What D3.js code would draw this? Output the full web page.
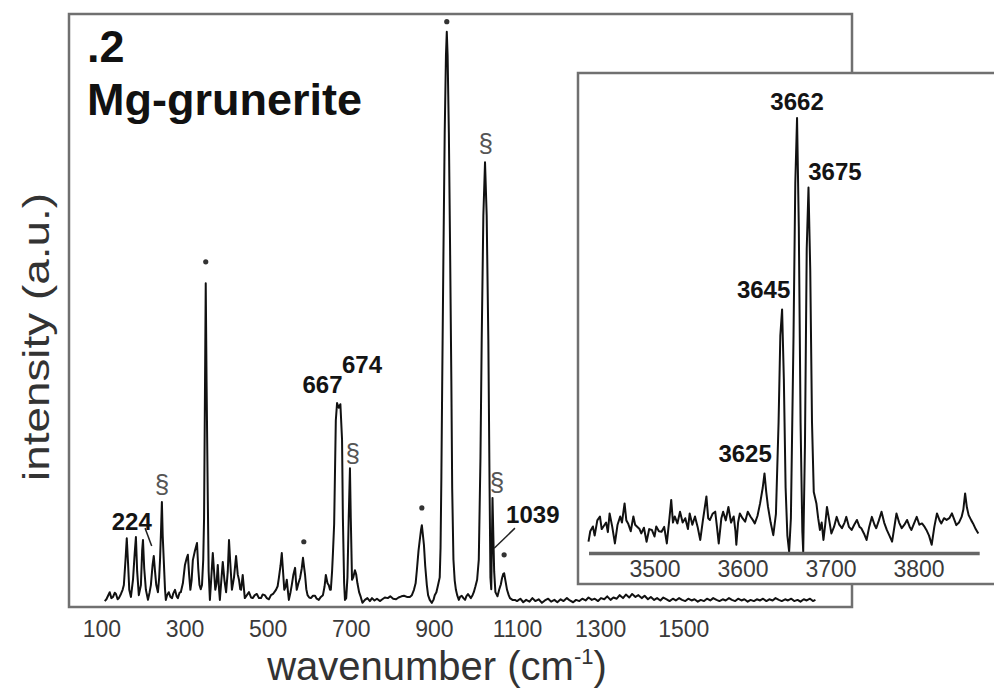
<!DOCTYPE html>
<html>
<head>
<meta charset="utf-8">
<script src="https://cdn.jsdelivr.net/npm/d3@7"></script>
<style>
	body { margin: 0; background: #fff; }
	svg { display: block; font-family: 'Liberation Sans', Arial, sans-serif; }
	.frame { fill: none; stroke: #707070; stroke-width: 2.5; }
	.insetFrame { fill: #fff; stroke: #707070; stroke-width: 2.5; }
	.spectrum { fill: none; stroke: #111; stroke-width: 2; stroke-linejoin: round; }
	.tickLabel { fill: #3a3a3a; font-size: 23px; text-anchor: middle; }
	.peakLabel { fill: #141414; font-size: 24px; font-weight: bold; text-anchor: middle; }
	.band { fill: #555; font-size: 26px; text-anchor: middle; }
	.dot { fill: #333; }
	.leader { stroke: #222; stroke-width: 1.5; }
	.title { fill: #111; font-size: 45px; font-weight: bold; }
	.axisTitle { fill: #333; }
</style>
</head>
<body>
<div id="chart"></div>
<script>
// raman spectrum, low wavenumber region: [wavenumber, intensity]
var mainSpectrum = [
	[108,1.0],[112,1.3],[116,1.9],[120,2.5],[124,1.5],[128,1.7],[132,2.4],[135,2.2],[139,1.3],[142,1.5],
	[147,2.2],[151,2.9],[154,3.7],[158,8.0],[161,11.6],[164,7.5],[167,2.9],[171,1.7],[176,4.6],[180,9.0],
	[183,11.8],[186,6.0],[190,2.0],[195,3.7],[198,9.5],[200,11.3],[203,6.5],[207,2.9],[212,1.2],[216,2.5],
	[219,3.7],[223,7.0],[226,8.6],[229,6.0],[232,3.7],[236,2.5],[239,5.0],[241,7.9],[243.5,13.0],[245.5,17.7],
	[247.5,12.0],[250,7.9],[253,3.0],[255,1.2],[258,2.0],[262,2.5],[266,1.7],[270,1.5],[273,2.3],[277,2.9],
	[281,1.8],[284,1.5],[288,2.4],[291,2.5],[296,4.0],[301,7.1],[305,8.2],[308,8.8],[311,5.5],[314,2.9],
	[317,4.5],[320,7.9],[325,9.5],[330,10.8],[333,6.5],[336,3.7],[339,3.0],[342,3.7],[345,8.0],[347,15.0],
	[349,35.0],[351,54.6],[353,38.0],[356,18.0],[358,6.0],[361,1.2],[364,4.5],[368,9.1],[371,6.0],[374,2.9],
	[377,4.0],[380,7.1],[383,3.0],[385,1.2],[388,4.0],[392,7.6],[396,4.5],[400,2.5],[404,6.0],[407,11.3],
	[410,7.5],[414,2.9],[419,5.0],[424,8.6],[428,5.5],[431,4.6],[434,3.0],[436,2.9],[440,5.4],[443,3.0],
	[445,1.5],[450,2.0],[455,2.5],[460,1.6],[464,1.5],[469,2.0],[474,2.2],[479,1.5],[484,1.5],[488,2.1],
	[493,2.0],[498,1.5],[503,1.3],[508,2.0],[513,2.2],[517,2.6],[520,2.9],[524,3.5],[527,4.9],[531,7.0],
	[534,9.1],[537,6.0],[540,2.9],[543,3.4],[546,4.6],[549,2.5],[551,1.2],[555,2.5],[558,3.7],[562,5.5],
	[566,6.6],[568,4.5],[570,2.9],[574,4.0],[578,4.9],[582,6.5],[585,8.3],[588,6.5],[590,5.4],[593,3.0],
	[596,2.0],[600,1.6],[604,1.5],[609,1.9],[614,1.9],[618,1.4],[623,1.2],[628,1.7],[633,2.0],[637,3.5],
	[640,5.4],[644,4.0],[647,3.7],[650,2.9],[652,2.9],[655,6.0],[657,9.0],[660,14.0],[664,31.5],[667,34.4],
	[671,33.6],[675,34.2],[679,28.2],[681,15.0],[684,4.0],[686,1.2],[689,1.5],[692,5.0],[695,15.0],[698,23.4],
	[700,15.0],[703,4.6],[706,5.0],[710,6.2],[713,5.5],[716,4.0],[720,2.5],[724,1.7],[728,0.7],[734,1.2],
	[740,1.5],[746,1.0],[751,1.5],[757,1.1],[763,1.4],[770,1.0],[776,1.3],[782,1.6],[789,1.5],[795,1.8],
	[802,1.4],[809,1.3],[815,1.6],[822,1.8],[828,1.9],[835,1.7],[842,1.7],[847,2.0],[852,2.9],[856,4.0],
	[859,6.2],[863,9.5],[866,11.3],[869,13.0],[871,13.8],[873,12.5],[876,10.5],[879,7.0],[883,3.7],[886,2.0],
	[890,1.2],[895,0.7],[899,1.2],[902,2.0],[906,2.5],[910,3.7],[914,5.0],[916,10.0],[918,22.0],[920,38.0],
	[923,60.0],[926,80.0],[929,93.0],[931,97.0],[933,93.0],[936,80.0],[939,60.0],[942,38.0],[944,20.0],[947,8.0],
	[950,4.5],[953,2.9],[956,2.0],[960,1.2],[963,1.7],[967,1.9],[971,1.5],[975,1.2],[978,1.8],[982,2.2],
	[986,1.8],[989,1.5],[993,2.0],[996,2.5],[1000,3.5],[1004,4.6],[1008,8.0],[1012,25.0],[1015,45.0],[1019,66.0],
	[1023,75.0],[1027,66.0],[1031,45.0],[1034,20.0],[1036,5.0],[1038,3.0],[1041,18.4],[1043,12.0],[1045,6.0],[1048,2.5],
	[1053,1.8],[1057,2.9],[1061,3.8],[1064,4.9],[1067,5.6],[1069,5.7],[1072,4.5],[1076,2.9],[1080,2.0],[1083,1.5],
	[1089,1.2],[1095,1.2],[1100,1.0],[1108,1.4],[1115,0.8],[1122,1.2],[1130,0.9],[1137,1.5],[1144,1.0],[1152,1.3],
	[1160,0.7],[1167,1.1],[1175,1.4],[1182,0.9],[1190,1.2],[1197,0.8],[1205,1.3],[1212,1.0],[1220,1.5],[1227,1.1],
	[1235,0.8],[1242,1.2],[1250,1.0],[1257,1.4],[1265,1.1],[1272,1.6],[1280,1.2],[1287,1.4],[1295,1.0],[1302,1.5],
	[1310,1.3],[1317,1.8],[1325,1.2],[1332,1.6],[1340,1.4],[1347,2.0],[1355,1.5],[1362,2.1],[1370,1.6],[1377,2.2],
	[1385,1.7],[1392,2.0],[1400,1.5],[1407,1.9],[1415,1.3],[1422,1.7],[1430,1.2],[1437,1.5],[1445,1.1],[1452,1.6],
	[1460,1.3],[1467,1.0],[1475,1.4],[1482,1.1],[1490,1.5],[1497,1.2],[1505,1.0],[1512,1.4],[1520,1.1],[1527,1.3],
	[1535,0.9],[1542,1.2],[1550,1.0],[1557,1.4],[1565,1.1],[1572,1.5],[1580,1.2],[1587,1.0],[1595,1.3],[1602,1.1],
	[1610,1.5],[1617,1.2],[1625,1.0],[1632,1.4],[1640,1.1],[1647,1.3],[1655,0.9],[1662,1.2],[1670,1.0],[1677,1.3],
	[1685,1.1],[1692,1.4],[1700,1.0],[1707,1.3],[1715,1.1],[1722,1.5],[1730,1.2],[1737,1.0],[1745,1.3],[1752,1.1],
	[1760,1.4],[1767,1.0],[1775,1.2],[1782,0.9],[1790,1.3],[1797,1.1],[1805,1.4],[1812,1.0],[1818,1.2]
];

// OH stretching region (inset): [wavenumber, intensity]
var insetSpectrum = [
	[3425,2.6],[3427,5.0],[3430,6.1],[3432,4.0],[3435,7.5],[3438,8.4],[3440,5.5],[3442,6.1],[3445,7.0],[3447,4.8],
	[3449,9.1],[3452,6.0],[3455,2.2],[3458,6.5],[3461,8.4],[3463,7.0],[3466,11.4],[3468,7.5],[3470,6.8],[3473,5.0],
	[3476,8.4],[3478,6.5],[3480,6.1],[3483,5.5],[3485,4.5],[3488,5.8],[3491,2.6],[3494,5.5],[3497,5.3],[3500,3.8],
	[3502,6.1],[3505,5.0],[3508,4.9],[3511,6.0],[3514,2.2],[3517,8.0],[3519,12.2],[3521,7.0],[3523,8.4],[3526,6.8],
	[3529,9.5],[3532,7.0],[3535,8.0],[3538,5.5],[3540,9.1],[3543,6.5],[3546,8.4],[3549,6.0],[3552,3.0],[3555,7.5],
	[3559,13.0],[3561,8.0],[3563,7.6],[3566,9.0],[3569,9.5],[3571,6.0],[3573,2.2],[3576,8.0],[3578,9.5],[3581,7.5],
	[3584,10.6],[3587,7.0],[3590,8.4],[3592,5.0],[3593,1.9],[3595,7.0],[3597,9.1],[3600,8.0],[3603,7.2],[3606,9.5],
	[3609,8.4],[3612,7.5],[3614,6.8],[3617,8.5],[3620,11.4],[3623,15.0],[3625,18.3],[3627,14.0],[3629,10.6],[3632,7.0],
	[3635,4.1],[3638,9.0],[3641,30.0],[3643,50.0],[3645,56.0],[3647,40.0],[3649,15.0],[3651,4.0],[3653,0.3],[3655,8.0],
	[3658,50.0],[3660,85.0],[3662,100.0],[3664,75.0],[3666,30.0],[3668,5.0],[3669,0.3],[3671,25.0],[3673,70.0],[3675,84.0],
	[3677,65.0],[3679,30.0],[3681,14.0],[3684,11.4],[3686,8.0],[3688,5.3],[3690,7.0],[3692,3.0],[3694,6.5],[3696,10.6],
	[3699,7.0],[3701,4.5],[3704,6.0],[3707,8.3],[3710,6.5],[3713,5.7],[3716,7.0],[3718,8.3],[3721,6.0],[3724,5.3],
	[3727,6.5],[3730,7.6],[3733,6.0],[3735,5.7],[3738,4.5],[3741,3.0],[3744,6.0],[3747,8.3],[3750,6.5],[3752,5.7],
	[3755,7.5],[3758,9.5],[3761,7.0],[3764,5.3],[3767,4.0],[3770,2.6],[3773,6.5],[3775,9.1],[3778,7.0],[3781,5.7],
	[3784,6.5],[3787,7.6],[3790,6.0],[3792,5.3],[3795,6.8],[3798,8.3],[3801,6.5],[3804,6.8],[3807,6.0],[3809,5.3],
	[3812,4.0],[3815,1.9],[3818,6.0],[3821,9.1],[3824,7.5],[3826,6.8],[3829,8.0],[3832,7.6],[3835,8.0],[3838,9.1],
	[3841,7.5],[3843,6.4],[3846,7.0],[3849,8.3],[3851,10.0],[3853,13.7],[3855,10.5],[3857,8.7],[3860,7.5],[3862,6.8],
	[3865,5.5],[3868,4.5]
];

var mainTicks  = [100, 300, 500, 700, 900, 1100, 1300, 1500];
var insetTicks = [3500, 3600, 3700, 3800];

// label anchors: wavenumber / intensity where the text sits
var mainPeakLabels = [
	{text: '224',  wn: 173,  at: 13.0},
	{text: '667',  wn: 632,  at: 36.1},
	{text: '674',  wn: 727,  at: 39.5},
	{text: '1039', wn: 1138, at: 14.2}
];
var mainLeaders = [
	{from: [205, 13.3], to: [221, 10.3]},
	{from: [1095, 13.3], to: [1045, 9.9]}
];
var bandMarks = [          // § bands
	{wn: 245.5, at: 19.2},
	{wn: 705,   at: 24.5},
	{wn: 1025,  at: 76.7},
	{wn: 1052,  at: 19.6}
];
var starMarks = [          // * bands
	{wn: 351, at: 58.2},
	{wn: 587, at: 11.0},
	{wn: 871, at: 16.7},
	{wn: 931, at: 98.7},
	{wn: 1069, at: 8.8}
];
var insetPeakLabels = [
	{text: '3662', wn: 3662, at: 101.8},
	{text: '3675', wn: 3705, at: 85.7},
	{text: '3645', wn: 3624, at: 58.6},
	{text: '3625', wn: 3603, at: 20.9}
];

function RamanChart(parentId) {
	var me = this;
	me.width  = 994;
	me.height = 689;
	me.svg = d3.select('#' + parentId).append('svg')
		.attr('width', me.width)
		.attr('height', me.height);
	me.drawMain();
	me.drawInset();
	me.drawTitles();
}

RamanChart.prototype.drawMain = function() {
	var me = this;

	me.x = d3.scaleLinear().domain([22, 1906]).range([69, 852]);
	me.y = d3.scaleLinear().domain([0, 100]).range([607, 14]);

	var line = d3.line()
		.x(function(d) { return me.x(d[0]); })
		.y(function(d) { return me.y(d[1]); });

	var g = me.svg.append('g').attr('class', 'main');

	g.append('rect')
		.attr('class', 'frame')
		.attr('x', me.x.range()[0])
		.attr('y', me.y.range()[1])
		.attr('width', me.x.range()[1] - me.x.range()[0])
		.attr('height', me.y.range()[0] - me.y.range()[1]);

	g.append('path')
		.attr('class', 'spectrum')
		.attr('d', line(mainSpectrum));

	var axis = d3.axisBottom(me.x)
		.tickValues(mainTicks)
		.tickSize(0)
		.tickPadding(0)
		.tickFormat(d3.format('d'));
	var ax = g.append('g')
		.attr('transform', 'translate(0,' + me.y(0) + ')')
		.call(axis);
	ax.select('.domain').remove();
	ax.selectAll('text')
		.attr('class', 'tickLabel')
		.attr('y', 30)
		.attr('dy', null)
		.attr('fill', null)
		.attr('font-size', null)
		.attr('font-family', null);

	g.selectAll('text.peakLabel')
		.data(mainPeakLabels)
		.enter().append('text')
		.attr('class', 'peakLabel')
		.attr('x', function(d) { return me.x(d.wn); })
		.attr('y', function(d) { return me.y(d.at); })
		.text(function(d) { return d.text; });

	g.selectAll('line.leader')
		.data(mainLeaders)
		.enter().append('line')
		.attr('class', 'leader')
		.attr('x1', function(d) { return me.x(d.from[0]); })
		.attr('y1', function(d) { return me.y(d.from[1]); })
		.attr('x2', function(d) { return me.x(d.to[0]); })
		.attr('y2', function(d) { return me.y(d.to[1]); });

	g.selectAll('text.band')
		.data(bandMarks)
		.enter().append('text')
		.attr('class', 'band')
		.attr('x', function(d) { return me.x(d.wn); })
		.attr('y', function(d) { return me.y(d.at); })
		.text('§');

	g.selectAll('circle.dot')
		.data(starMarks)
		.enter().append('circle')
		.attr('class', 'dot')
		.attr('cx', function(d) { return me.x(d.wn); })
		.attr('cy', function(d) { return me.y(d.at); })
		.attr('r', 2.6);
}

RamanChart.prototype.drawInset = function() {
	var me = this;

	me.ix = d3.scaleLinear().domain([3425, 3869]).range([588.5, 979.2]);
	me.iy = d3.scaleLinear().domain([0, 100]).range([553, 118]);

	var line = d3.line()
		.x(function(d) { return me.ix(d[0]); })
		.y(function(d) { return me.iy(d[1]); });

	var g = me.svg.append('g').attr('class', 'inset');

	// inset box runs off the right edge of the figure
	g.append('rect')
		.attr('class', 'insetFrame')
		.attr('x', 578)
		.attr('y', 73)
		.attr('width', 440)
		.attr('height', 511);

	g.append('path')
		.attr('class', 'spectrum')
		.attr('d', line(insetSpectrum));

	var axis = d3.axisBottom(me.ix)
		.tickValues(insetTicks)
		.tickSize(0)
		.tickSizeOuter(0)
		.tickPadding(0)
		.tickFormat(d3.format('d'));
	var ax = g.append('g')
		.attr('transform', 'translate(0,' + me.iy(0) + ')')
		.call(axis);
	ax.select('.domain')
		.attr('stroke', '#666')
		.attr('stroke-width', 3.5);
	ax.selectAll('text')
		.attr('class', 'tickLabel')
		.attr('y', 24)
		.attr('dy', null)
		.attr('fill', null)
		.attr('font-size', null)
		.attr('font-family', null);

	g.selectAll('text.peakLabel')
		.data(insetPeakLabels)
		.enter().append('text')
		.attr('class', 'peakLabel')
		.attr('x', function(d) { return me.ix(d.wn); })
		.attr('y', function(d) { return me.iy(d.at); })
		.text(function(d) { return d.text; });
}

RamanChart.prototype.drawTitles = function() {
	var me = this;

	me.svg.append('text')
		.attr('class', 'title')
		.attr('x', 87)
		.attr('y', 62)
		.text('.2');
	me.svg.append('text')
		.attr('class', 'title')
		.attr('x', 87)
		.attr('y', 115)
		.text('Mg-grunerite');

	me.svg.append('text')
		.attr('class', 'axisTitle')
		.attr('transform', 'translate(49,337) rotate(-90)')
		.attr('text-anchor', 'middle')
		.attr('font-size', 36)
		.attr('textLength', 288)
		.attr('lengthAdjust', 'spacingAndGlyphs')
		.text('intensity (a.u.)');

	var xt = me.svg.append('text')
		.attr('class', 'axisTitle')
		.attr('x', 437)
		.attr('y', 680)
		.attr('text-anchor', 'middle')
		.attr('font-size', 40);
	xt.append('tspan').text('wavenumber (cm');
	xt.append('tspan').attr('dy', -16).attr('font-size', 22).text('-1');
	xt.append('tspan').attr('dy', 16).text(')');
}

new RamanChart('chart');
</script>
</body>
</html>
